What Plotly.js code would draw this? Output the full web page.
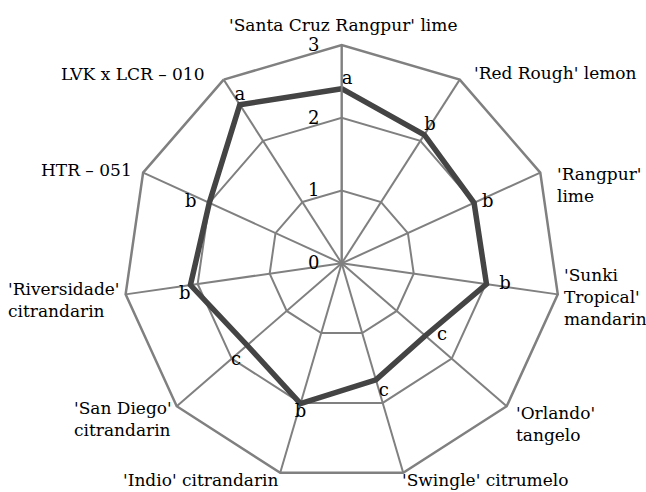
<!DOCTYPE html>
<html>
<head>
<meta charset="utf-8">
<script src="https://cdn.plot.ly/plotly-3.0.1.min.js"></script>
<style>html,body{margin:0;padding:0;background:#fff;}#chart{width:646px;height:492px;}</style>
</head>
<body>
<div id="chart"></div>
<script>
// ---- data ----
var categories = ["'Santa Cruz Rangpur' lime", "'Red Rough' lemon", "'Rangpur' lime",
  "'Sunki Tropical' mandarin", "'Orlando' tangelo", "'Swingle' citrumelo",
  "'Indio' citrandarin", "'San Diego' citrandarin", "'Riversidade' citrandarin",
  "HTR – 051", "LVK x LCR – 010"];
var values = [2.40, 2.10, 2.00, 2.01, 1.52, 1.67, 2.01, 1.72, 2.10, 2.00, 2.59];
var letters = ["a", "b", "b", "b", "c", "c", "b", "c", "b", "b", "a"];
var radialTicks = [0, 1, 2, 3];
var displayLabels = ["'Santa Cruz Rangpur' lime", "'Red Rough' lemon", "'Rangpur'<br>lime",
  "'Sunki<br>Tropical'<br>mandarin", "'Orlando'<br>tangelo", "'Swingle' citrumelo",
  "'Indio' citrandarin", "'San Diego'<br>citrandarin", "'Riversidade'<br>citrandarin",
  "HTR – 051", "LVK x LCR – 010"];

// ---- layout helpers ----
var W = 646, H = 492;
var letterPos = ["top right", "top right", "middle right", "middle right", "middle right",
  "bottom right", "bottom center", "bottom left", "bottom left", "middle left", "top center"];
// invisible marker sizes only used to push each letter away from its point
var letterGap = [0, 0, 11, 19, 17, 3, 0, 8, 0, 19, 0];
// label placement in pixels: [x, y(center), xanchor]
var labelPx = [[343.3, 24.7, "center"], [472, 73, "left"], [555, 185, "left"],
  [562, 297, "left"], [514, 424, "left"], [400, 480, "left"], [121, 480, "left"],
  [72, 419, "left"], [6, 300, "left"], [39, 170, "left"], [59, 74, "left"]];

var cx = 341.7, cy = 263.3, R = 218.3;
var FONT = "DejaVu Serif";
var GRAY = "#808080";

var traces = [
  {
    type: "scatterpolar",
    r: values.concat([values[0]]),
    theta: categories.concat([categories[0]]),
    mode: "lines",
    line: {color: "#444444", width: 5.5},
    hoverinfo: "skip",
    showlegend: false
  },
  {
    type: "scatterpolar",
    r: values,
    theta: categories,
    mode: "markers+text",
    marker: {size: letterGap, opacity: 0, color: "#fff"},
    text: letters,
    textposition: letterPos,
    textfont: {family: FONT, size: 18, color: "#000"},
    hoverinfo: "skip",
    showlegend: false,
    cliponaxis: false
  }
];

var annotations = displayLabels.map(function (t, i) {
  var p = labelPx[i];
  return {
    text: t, xref: "paper", yref: "paper",
    x: p[0] / W, y: 1 - p[1] / H,
    xanchor: p[2], yanchor: "middle", align: p[2] === "center" ? "center" : "left",
    showarrow: false,
    font: {family: FONT, size: 17, color: "#000"}
  };
});

var layout = {
  width: W, height: H,
  margin: {l: 0, r: 0, t: 0, b: 0},
  paper_bgcolor: "#fff",
  showlegend: false,
  font: {family: FONT, size: 17, color: "#000"},
  polar: {
    domain: {x: [(cx - R) / W, (cx + R) / W], y: [(H - cy - R) / H, (H - cy + R) / H]},
    bgcolor: "#fff",
    gridshape: "linear",
    radialaxis: {
      range: [0, 3],
      tickvals: radialTicks,
      ticktext: radialTicks.map(String),
      angle: 90,
      side: "counterclockwise",
      showline: true, linecolor: GRAY, linewidth: 2,
      showgrid: true, gridcolor: GRAY, gridwidth: 2,
      ticks: "outside", ticklen: 15, tickcolor: "rgba(0,0,0,0)",
      tickfont: {family: FONT, size: 18, color: "#000"},
      tickangle: 90
    },
    angularaxis: {
      type: "category",
      categoryarray: categories,
      rotation: 90,
      direction: "clockwise",
      showline: true, linecolor: GRAY, linewidth: 2.5,
      showgrid: true, gridcolor: GRAY, gridwidth: 2,
      showticklabels: false, ticks: ""
    }
  },
  annotations: annotations
};

Plotly.newPlot("chart", traces, layout, {displayModeBar: false, staticPlot: true});
</script>
</body>
</html>
